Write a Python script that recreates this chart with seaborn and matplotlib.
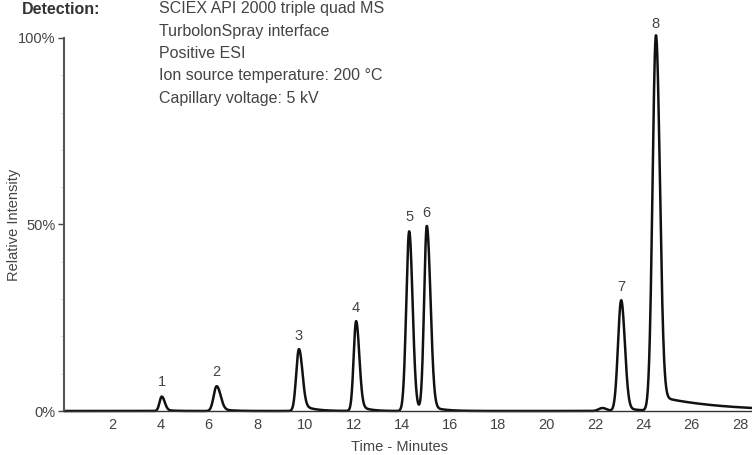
import numpy as np
import pandas as pd
import matplotlib.pyplot as plt
import seaborn as sns

peak_labels = ['1', '2', '3', '4', '5', '6', '', '7', '8']
peak_times = [4.05, 6.32, 9.73, 12.10, 14.30, 15.03, 22.30, 23.08, 24.52]
peak_heights = [3.8, 6.5, 16.2, 23.7, 48.0, 49.2, 0.8, 29.5, 100.0]
sigma_left = [0.09, 0.12, 0.11, 0.10, 0.12, 0.11, 0.15, 0.13, 0.14]
sigma_right = [0.12, 0.16, 0.14, 0.13, 0.14, 0.15, 0.18, 0.15, 0.16]
tail_heights = [0.4, 0.8, 2.2, 2.2, 1.0, 1.5, 0.0, 1.2, 4.0]
tail_decay = [0.35, 0.4, 0.45, 0.35, 0.4, 0.5, 1.0, 0.5, 2.5]

detection_lines = ['SCIEX API 2000 triple quad MS', 'TurbolonSpray interface',
                   'Positive ESI', 'Ion source temperature: 200 °C',
                   'Capillary voltage: 5 kV']

TXT = '#444444'

# traza del cromatograma a partir de los picos
t = np.linspace(0, 28.5, 3000)
y = np.zeros_like(t)
for t0, h, sl, sr, th, td in zip(peak_times, peak_heights, sigma_left, sigma_right,
                                 tail_heights, tail_decay):
    s = np.where(t < t0, sl, sr)
    y += h * np.exp(-0.5 * ((t - t0) / s) ** 2)
    step = 1 / (1 + np.exp(-(t - t0 - 0.08) / 0.05))
    y += th * step * np.exp(-np.clip(t - t0, 0, None) / td)
df = pd.DataFrame({'time': t, 'intensity': y})

sns.set_theme(style='white')
plt.rcParams['font.family'] = ['Liberation Sans', 'DejaVu Sans']

fig = plt.figure(figsize=(7.52, 4.55), dpi=100)
ax = fig.add_axes([0.085, 0.0967, 0.915, 0.8198])

sns.lineplot(data=df, x='time', y='intensity', color='#111111', linewidth=1.8, ax=ax)
for line in ax.lines:
    line.set_clip_on(False)

# etiquetas de los picos
for lab, t0, h in zip(peak_labels, peak_times, peak_heights):
    if lab:
        ax.text(t0, h + 2.0, lab, ha='center', va='bottom', fontsize=10.5, color=TXT)

ax.set_xlim(0, 28.5)
ax.set_ylim(0, 100)
ax.set_xticks(range(2, 29, 2))
ax.set_xticklabels([str(v) for v in range(2, 29, 2)], fontsize=10.5, color=TXT)
ax.set_yticks([0, 50, 100])
ax.set_yticklabels(['0%', '50%', '100%'], fontsize=10.5, color=TXT)
ax.set_yticks(range(10, 100, 10), minor=True)
ax.tick_params(axis='x', length=0, pad=5)
ax.tick_params(axis='y', which='major', length=4, width=1, color='#444444', left=True, pad=2)
ax.tick_params(axis='y', which='minor', length=3, width=0.6, color='#dddddd', left=True)
ax.set_xlabel('Time - Minutes', fontsize=10.5, color=TXT, va='center')
ax.xaxis.set_label_coords(0.488, -0.0965)
ax.set_ylabel('Relative Intensity', fontsize=10.5, color=TXT, va='center')
ax.yaxis.set_label_coords(-0.073, 0.5)

sns.despine(ax=ax, top=True, right=True)
ax.spines['left'].set_color('#555555')
ax.spines['left'].set_linewidth(1.5)
ax.spines['bottom'].set_color('#333333')
ax.spines['bottom'].set_linewidth(1.0)

# bloque de texto de deteccion
fig.text(22 / 752, 1 - 9 / 455, 'Detection:', fontsize=11.5, fontweight='bold',
         color='#333333', ha='left', va='center')
for i, txt in enumerate(detection_lines):
    fig.text(159 / 752, 1 - (9 + i * 22.3) / 455, txt, fontsize=11.5,
             color=TXT, ha='left', va='center')

fig.savefig('out.png', dpi=100)
